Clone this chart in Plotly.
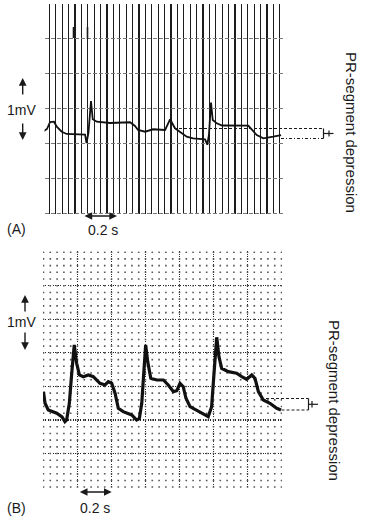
import numpy as np
import plotly.graph_objects as go

W, H = 367, 519

# ---------------- data ----------------
# Panel A: ECG trace, time (s) and voltage (mV)
a_time = [0.000, 0.025, 0.044, 0.069, 0.086, 0.117, 0.148, 0.263, 0.272, 0.284,
          0.300, 0.311, 0.336, 0.419, 0.544, 0.575, 0.594, 0.638, 0.688, 0.763,
          0.794, 0.825, 0.898, 0.938, 1.013, 1.027, 1.037, 1.050, 1.061, 1.086,
          1.119, 1.283, 1.336, 1.377, 1.439, 1.488]
a_mv = [0.164, 0.200, 0.300, 0.304, 0.233, 0.161, 0.129, 0.121, 0.000, 0.143,
        0.600, 0.339, 0.304, 0.286, 0.296, 0.243, 0.186, 0.161, 0.196, 0.186,
        0.339, 0.210, 0.090, 0.067, 0.053, -0.025, 0.114, 0.576, 0.329, 0.281,
        0.250, 0.247, 0.114, 0.067, 0.090, 0.114]

# Panel B: ECG trace, time (s) and voltage (mV)
b_time = [0.000, 0.009, 0.028, 0.078, 0.109, 0.126, 0.136, 0.152, 0.166, 0.181,
          0.195, 0.211, 0.234, 0.264, 0.293, 0.332, 0.362, 0.381, 0.401, 0.421,
          0.440, 0.469, 0.519, 0.548, 0.564, 0.578, 0.587, 0.601, 0.613, 0.631,
          0.666, 0.705, 0.734, 0.764, 0.784, 0.803, 0.822, 0.838, 0.862, 0.901,
          0.950, 0.969, 0.989, 1.003, 1.019, 1.032, 1.048, 1.087, 1.136, 1.166,
          1.195, 1.225, 1.244, 1.264, 1.293, 1.332, 1.372, 1.397]
b_mv = [0.422, 0.249, 0.149, 0.100, 0.045, -0.025, 0.000, 0.249, 0.696, 1.118,
        0.845, 0.671, 0.645, 0.671, 0.645, 0.547, 0.522, 0.571, 0.547, 0.398,
        0.174, 0.124, 0.075, 0.000, 0.025, 0.249, 0.596, 1.118, 0.869, 0.621,
        0.596, 0.596, 0.522, 0.422, 0.437, 0.547, 0.496, 0.323, 0.198, 0.149,
        0.075, 0.049, 0.198, 0.696, 1.232, 0.943, 0.770, 0.720, 0.696, 0.645,
        0.607, 0.671, 0.621, 0.422, 0.298, 0.249, 0.174, 0.149]

panel_labels = ["(A)", "(B)"]
scale_label_v = "1mV"
scale_label_t = "0.2 s"
side_label = "PR-segment depression"

# ---------------- geometry helpers (pixels -> paper) ----------------
def px(x):
    return x / W

def py(y):
    return 1 - y / H

FONT = "Liberation Sans, Arial, Helvetica, sans-serif"
INK = "#1a1a1a"

# Panel A: 160 px per s, 70 px per mV, t=0 at x=43, 0 mV at y=143
A_XR = [0.01, 1.5]
A_YR = [-1.02, 1.98]
a_dom_x = [px(43 + 160 * A_XR[0]), px(43 + 160 * A_XR[1])]
a_dom_y = [py(143 - 70 * A_YR[0]), py(143 - 70 * A_YR[1])]

# Panel B: 170 px per s, 67.14 px per mV, t=0 at x=43.5, 0 mV at y=420
B_XR = [-0.003, 1.403]
B_YR = [-1.01, 2.51]
b_dom_x = [px(43.5 + 170 * B_XR[0]), px(43.5 + 170 * B_XR[1])]
b_dom_y = [py(420 - 67.14 * B_YR[0]), py(420 - 67.14 * B_YR[1])]

fig = go.Figure()

# minor dot grid of panel B (intersections of 0.04 s x 0.1 mV)
gx, gy = np.meshgrid(np.arange(0, 1.4001, 0.04), np.arange(-1.0, 2.5001, 0.1))
fig.add_trace(go.Scatter(x=gx.ravel(), y=gy.ravel(), mode="markers",
                         marker=dict(symbol="square", size=1.6, color="#555"),
                         xaxis="x2", yaxis="y2", hoverinfo="skip"))

fig.add_trace(go.Scatter(x=a_time, y=a_mv, mode="lines",
                         line=dict(color="#111", width=1.8),
                         xaxis="x", yaxis="y", hoverinfo="skip"))
fig.add_trace(go.Scatter(x=b_time, y=b_mv, mode="lines",
                         line=dict(color="#111", width=3.2),
                         xaxis="x2", yaxis="y2", hoverinfo="skip"))

common = dict(showticklabels=False, ticks="", zeroline=False, showline=False,
              showgrid=True, fixedrange=True)

fig.update_layout(
    width=W, height=H, margin=dict(l=0, r=0, t=0, b=0),
    paper_bgcolor="white", plot_bgcolor="rgba(0,0,0,0)", showlegend=False,
    xaxis=dict(domain=a_dom_x, range=A_XR, anchor="y", dtick=0.04, tick0=0,
               gridcolor="#1c1c1c", gridwidth=1.3, **common),
    yaxis=dict(domain=a_dom_y, range=A_YR, anchor="x", dtick=0.5, tick0=0,
               gridcolor="#777777", gridwidth=1, griddash="4px,2px", **common),
    xaxis2=dict(domain=b_dom_x, range=B_XR, anchor="y2", dtick=0.2, tick0=0,
                gridcolor="#2a2a2a", gridwidth=1.2, griddash="1px,1.5px", **common),
    yaxis2=dict(domain=b_dom_y, range=B_YR, anchor="x2", dtick=0.5, tick0=0,
                gridcolor="#2a2a2a", gridwidth=1.2, griddash="1px,1.5px", **common),
)

shapes = []

def seg(x0, y0, x1, y1, width=1.0, dash=None, color=INK):
    line = dict(color=color, width=width)
    if dash:
        line["dash"] = dash
    shapes.append(dict(type="line", xref="paper", yref="paper",
                       x0=px(x0), y0=py(y0), x1=px(x1), y1=py(y1), line=line))

# Panel A reference lines and bracket
seg(174, 128.5, 323.5, 128.5, dash="3px,2px")
seg(281, 138.5, 323.5, 138.5, dash="3px,2px,1px,2px")
seg(323.5, 128.5, 323.5, 138.5, width=1.2)
seg(323.5, 133.5, 333.5, 133.5, width=1.2)
seg(329, 130.5, 329, 136.5, width=1.2)
# small pen marks at top of panel A
seg(73.5, 27, 73.5, 38, width=1.6)
seg(87.5, 27, 87.5, 39, width=1.6)

# Panel B reference lines and bracket
seg(266, 398.5, 308.5, 398.5, dash="3px,2px")
seg(281.5, 410, 308.5, 410, dash="3px,2px")
seg(308.5, 398.5, 308.5, 410, width=1.2)
seg(308.5, 404.3, 318, 404.3, width=1.2)
seg(312, 401, 312, 407.5, width=1.2)

fig.update_layout(shapes=shapes)

ann = []

def text(x, y, s, size=14, angle=0):
    ann.append(dict(x=px(x), y=py(y), xref="paper", yref="paper", text=s,
                    showarrow=False, xanchor="center", yanchor="middle",
                    textangle=angle, font=dict(family=FONT, size=size, color=INK)))

def arrow(hx, hy, tx, ty, both=False):
    ann.append(dict(x=px(hx), y=py(hy), xref="paper", yref="paper", text="",
                    showarrow=True, ax=tx - hx, ay=ty - hy, axref="pixel", ayref="pixel",
                    arrowhead=2, startarrowhead=2, arrowsize=1.1, startarrowsize=1.1,
                    arrowwidth=1.4, arrowcolor=INK,
                    arrowside="end+start" if both else "end"))

# Panel A annotations
text(21, 110, scale_label_v, 14)
arrow(22.7, 78, 22.7, 96)
arrow(22.7, 140, 22.7, 122)
text(16, 229, panel_labels[0], 14)
text(102.5, 230, scale_label_t, 14)
arrow(117, 216, 83, 216, both=True)
text(352, 132, side_label, 15, angle=90)

# Panel B annotations
text(21, 322, scale_label_v, 14)
arrow(25, 295, 25, 313)
arrow(25, 350, 25, 331)
text(16, 508, panel_labels[1], 14)
text(95, 508, scale_label_t, 14)
arrow(111.7, 492, 78.3, 492, both=True)
text(335, 400, side_label, 15, angle=90)

fig.update_layout(annotations=ann)

fig.write_html(
    "out.html",
    config={"displayModeBar": False, "staticPlot": True},
    post_script="document.body.style.margin='0';document.body.style.padding='0';"
                "document.body.style.overflow='hidden';",
)
